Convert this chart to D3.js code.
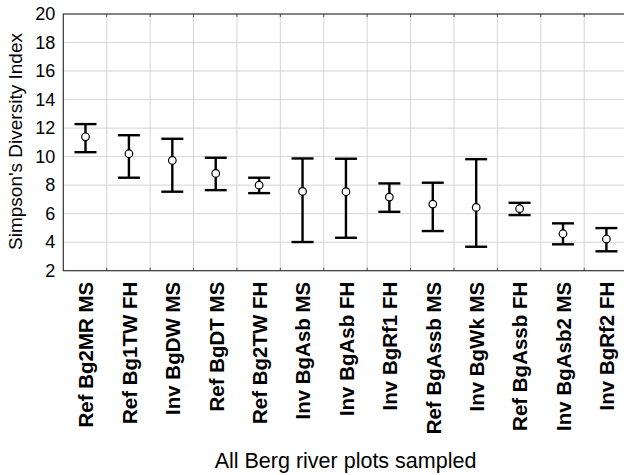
<!DOCTYPE html>
<html><head><meta charset="utf-8">
<script src="https://cdn.jsdelivr.net/npm/d3@7"></script>
<style>body{margin:0;background:#fff}svg{display:block}</style>
</head><body>
<script>
const categories = ["Ref Bg2MR MS","Ref Bg1TW FH","Inv BgDW MS","Ref BgDT MS","Ref Bg2TW FH","Inv BgAsb MS","Inv BgAsb FH","Inv BgRf1 FH","Ref BgAssb MS","Inv BgWk MS","Ref BgAssb FH","Inv BgAsb2 MS","Inv BgRf2 FH"];
const means = [11.39,10.2,9.73,8.82,8.0,7.56,7.54,7.16,6.67,6.44,6.35,4.59,4.22];
const upper = [12.28,11.5,11.25,9.92,8.52,9.87,9.85,8.12,8.17,9.82,6.76,5.32,4.99];
const lower = [10.31,8.52,7.54,7.65,7.44,4.01,4.31,6.13,4.78,3.68,5.9,3.85,3.36];
const yTicks = [2,4,6,8,10,12,14,16,18,20];

const W=624,H=475;
const L=63.3,T=14,R=627.6,B=270.7;
const svg=d3.select("body").append("svg").attr("width",W).attr("height",H);
const x=d3.scaleBand().domain(categories).range([L,R]).paddingInner(0).paddingOuter(0);
const y=d3.scaleLinear().domain([2,20]).range([B,T]);
const font="Liberation Sans, Arial, sans-serif";

// grid
svg.append("g").selectAll("line").data(yTicks.slice(1,-1)).join("line")
  .attr("x1",L).attr("x2",R).attr("y1",d=>y(d)).attr("y2",d=>y(d))
  .attr("stroke","#d4d4d4").attr("stroke-width",1);
svg.append("g").selectAll("line").data(categories.slice(1)).join("line")
  .attr("x1",d=>x(d)).attr("x2",d=>x(d)).attr("y1",T).attr("y2",B)
  .attr("stroke","#d4d4d4").attr("stroke-width",1);
// inner ticks top and bottom
svg.append("g").selectAll("line").data(categories.slice(1)).join("line")
  .attr("x1",d=>x(d)).attr("x2",d=>x(d)).attr("y1",T).attr("y2",T+3)
  .attr("stroke","#555").attr("stroke-width",1);
svg.append("g").selectAll("line").data(categories.slice(1)).join("line")
  .attr("x1",d=>x(d)).attr("x2",d=>x(d)).attr("y1",B-3).attr("y2",B)
  .attr("stroke","#555").attr("stroke-width",1);
// frame
svg.append("rect").attr("x",L).attr("y",T).attr("width",R-L).attr("height",B-T)
  .attr("fill","none").attr("stroke","#333").attr("stroke-width",1.2);

// y axis labels
const ya=svg.append("g").attr("transform",`translate(${L},0)`).call(d3.axisLeft(y).tickValues(yTicks).tickSize(0).tickPadding(8));
ya.select(".domain").remove();
ya.selectAll("text").attr("font-family",font).attr("font-size",18).attr("fill","#000");

// x axis labels
const xa=svg.append("g").attr("transform",`translate(0,${B})`).call(d3.axisBottom(x).tickSize(0).tickPadding(0));
xa.select(".domain").remove();
xa.selectAll("text").attr("font-family",font).attr("font-size",20.5).attr("font-weight","bold").attr("fill","#000")
  .attr("transform","translate(1,11) rotate(-90)").attr("text-anchor","end").attr("dy","0.36em").attr("dx","0").attr("y",0).attr("x",0);

// error bars
const cap=11;
const g=svg.append("g");
categories.forEach((c,i)=>{
  const cx=x(c)+x.bandwidth()/2+0.5;
  g.append("line").attr("x1",cx).attr("x2",cx).attr("y1",y(upper[i])).attr("y2",y(lower[i])).attr("stroke","#000").attr("stroke-width",2.4);
  g.append("line").attr("x1",cx-cap).attr("x2",cx+cap).attr("y1",y(upper[i])).attr("y2",y(upper[i])).attr("stroke","#000").attr("stroke-width",2.4);
  g.append("line").attr("x1",cx-cap).attr("x2",cx+cap).attr("y1",y(lower[i])).attr("y2",y(lower[i])).attr("stroke","#000").attr("stroke-width",2.4);
  g.append("circle").attr("cx",cx).attr("cy",y(means[i])).attr("r",3.8).attr("fill","#fff").attr("stroke","#000").attr("stroke-width",1.2);
});

// titles
svg.append("text").attr("transform",`translate(22,141.5) rotate(-90)`).attr("text-anchor","middle")
  .attr("font-family",font).attr("font-size",19).attr("fill","#000").text("Simpson's Diversity Index");
svg.append("text").attr("x",345.5).attr("y",468).attr("text-anchor","middle")
  .attr("font-family",font).attr("font-size",21.5).attr("fill","#000").text("All Berg river plots sampled");
</script>
</body></html>
